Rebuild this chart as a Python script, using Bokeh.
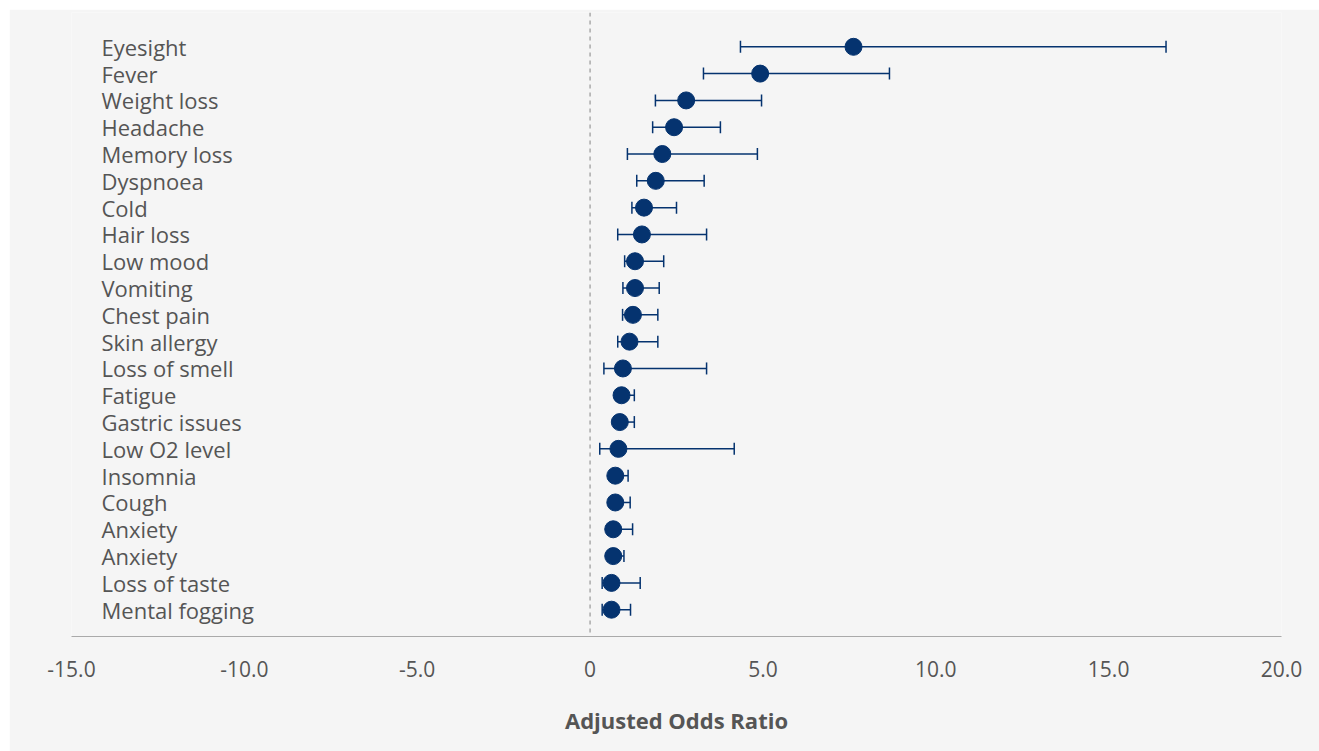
from bokeh.plotting import figure
from bokeh.models import ColumnDataSource, Whisker, Span, FixedTicker, Range1d, TeeHead
from bokeh.core.properties import value
from bokeh.embed import file_html
from bokeh.resources import INLINE

categories = ["Eyesight", "Fever", "Weight loss", "Headache", "Memory loss", "Dyspnoea",
              "Cold", "Hair loss", "Low mood", "Vomiting", "Chest pain", "Skin allergy",
              "Loss of smell", "Fatigue", "Gastric issues", "Low O2 level", "Insomnia",
              "Cough", "Anxiety", "Anxiety", "Loss of taste", "Mental fogging"]
aor = [7.62, 4.92, 2.78, 2.43, 2.09, 1.90, 1.56, 1.50, 1.30, 1.30, 1.24, 1.14,
       0.95, 0.91, 0.86, 0.82, 0.73, 0.73, 0.67, 0.67, 0.62, 0.62]
lower = [4.35, 3.28, 1.89, 1.81, 1.08, 1.35, 1.21, 0.80, 1.00, 0.95, 0.94, 0.80,
         0.40, 0.75, 0.70, 0.28, 0.60, 0.60, 0.55, 0.58, 0.35, 0.35]
upper = [16.66, 8.66, 4.96, 3.77, 4.84, 3.30, 2.50, 3.37, 2.13, 2.00, 1.96, 1.96,
         3.37, 1.28, 1.28, 4.17, 1.10, 1.16, 1.23, 0.98, 1.45, 1.17]
tick_values = [-15, -10, -5, 0, 5, 10, 15, 20]
tick_labels = ["-15.0", "-10.0", "-5.0", "0", "5.0", "10.0", "15.0", "20.0"]

rows = list(range(len(categories)))
src = ColumnDataSource(dict(cat=categories, aor=aor, lower=lower, upper=upper, row=rows,
                            xlab=[tick_values[0]] * len(categories)))

BG = "#f5f5f5"
NAVY = "#05336f"
TXT = "#555555"
FONT = "Open Sans"

p = figure(width=1310, height=742, output_backend="svg", toolbar_location=None,
           x_range=Range1d(-15, 20), y_range=Range1d(len(categories), -1.28),
           min_border_left=62, min_border_right=38, min_border_top=3, min_border_bottom=115,
           background_fill_color=BG, border_fill_color=BG, outline_line_color=None)
p.margin = (9, 0, 0, 9)
p.grid.visible = False
p.yaxis.visible = False

p.add_layout(Span(location=0, dimension="height", line_color="#aaaaaa",
                  line_dash="4 4", line_width=1.5))

w = Whisker(source=src, base="row", lower="lower", upper="upper", dimension="width",
            line_color=NAVY, line_width=1.5,
            upper_head=TeeHead(size=12, line_color=NAVY, line_width=1.5),
            lower_head=TeeHead(size=12, line_color=NAVY, line_width=1.5))
p.add_layout(w)

p.scatter("aor", "row", source=src, size=17, fill_color=NAVY, line_color=NAVY)

p.text("xlab", "row", text="cat", source=src, x_offset=30, text_align="left",
       text_baseline="middle", text_font=value(FONT), text_font_size="22px",
       text_color=TXT)

ax = p.xaxis[0]
ax.ticker = FixedTicker(ticks=tick_values)
ax.major_label_overrides = {v: l for v, l in zip(tick_values, tick_labels)}
ax.major_tick_line_color = None
ax.minor_tick_line_color = None
ax.axis_line_color = "#aaaaaa"
ax.axis_line_width = 1.2
ax.major_label_standoff = 18
ax.major_label_text_font = FONT
ax.major_label_text_font_size = "21px"
ax.major_label_text_color = TXT
ax.axis_label = "Adjusted Odds Ratio"
ax.axis_label_text_font = FONT
ax.axis_label_text_font_style = "bold"
ax.axis_label_text_font_size = "22px"
ax.axis_label_text_color = TXT
ax.axis_label_standoff = 25

open("out.html", "w").write(file_html(p, INLINE))
